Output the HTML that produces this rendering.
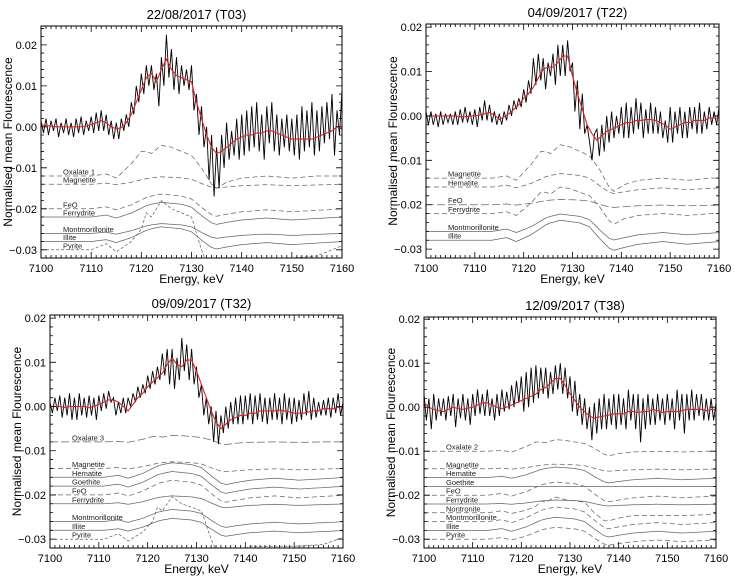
<!DOCTYPE html>
<html><head><meta charset="utf-8">
<style>
html,body{margin:0;padding:0;background:#fff;}
svg{display:block;font-family:"Liberation Sans",sans-serif;}
</style></head>
<body>
<svg id="fig" width="738" height="582" viewBox="0 0 738 582" xmlns="http://www.w3.org/2000/svg"></svg>
<script>
// ---------- data (values in units of 1e-3) ----------
const energyTicks = [7100, 7110, 7120, 7130, 7140, 7150, 7160];
const yTickValues = [0.02, 0.01, 0.00, -0.01, -0.02, -0.03];
const yTickLabels = ["0.02", "0.01", "0.00", "\u22120.01", "\u22120.02", "\u22120.03"];
const panelTitles = ["22/08/2017 (T03)", "04/09/2017 (T22)", "09/09/2017 (T32)", "12/09/2017 (T38)"];

const fitT03 = [0.5,0.3,0.2,0,0,0,0,0,0,0.2, 0.5,1,1.5,1,0,-0.5,-0.2,1,3,6, 9,12,13,11,14,16.5,14,12.5,12,11.5, 11,6,2,-2,-5,-6.5,-6,-5,-4,-3, -2.5,-2,-2,-1.5,-1.5,-1,-1,-1.5,-2,-2.5, -3,-3,-3,-3,-3,-2.5,-2,-1.5,-1,0, -0.5];
const dataT03 = [1.5,-1.5,2,-2,1.5,-1,2,-2.5,1,-1.5, 2,-2,1,-2.5,2,-1.5,2.5,-2,1.5,-1, 2.5,-1.5,3.5,-1,4,-1,3,-2,1.5,-3, 1,-3,2,-1,3,0,6,3,10,6, 13,8,15,10,15,9,13,5,17,10, 22.5,12,19,9,17,8,15,10,14,9, 15,4,8,-2,5,-5,0,-13,-2,-17, -5,-15,-2,-10,1,-8,-1,-7,2,-8, 3,-7,4,-6,5,-5,6,-6,3,-8, 5,-4,6,-6,3,-7,2,-5,3,-6, 2,-7,3,-8,5,-6,4,-5,6,-7, 4,-6,5,-4,6,-3,8,-7,4,-2, 9];

const fitT22 = [0,0,0,0,0,0,0,-0.2,-0.2,0, 0,0.2,0.5,0.8,0.2,-0.8,-0.2,0.5,1.5,2.5, 4,5,6.5,8.5,10.5,11,11,12,13.5,13.5, 9,5,1.5,-2,-4,-5.5,-4.5,-3.5,-3,-2.5, -2,-1.5,-1.5,-1,-1,-0.8,-0.8,-1,-1.5,-2, -3,-2.5,-2,-1.5,-1.5,-1,-1,-1,-0.5,-0.5, -0.5];
const dataT22 = [1,-2,1,-2,0.5,-2.5,1,-2,0.5,-1.5, 0.5,-2,1,-2,1.5,-1.5,2,-1.5,1,-2, 1.5,-2.5,2,-1,3.5,-1,2.5,-1.5,1,-2, 0.5,-2,1,-1,2.5,0,3.5,1.5,4,2, 6,3,8,5,13,7,14,8,13,6, 12,9,14,7,16,9,16,9,17,10, 12,1,8,-3,5,-4,-2,-6,-10,-4, -3,-9,-2,-8,0,-6,1,-5,0,-4, 2,-5,3,-5,2,-4,4,-3,3,-5, 1.5,-4,3,-4,2,-4,1,-5,-1,-6, 2,-6,1,-4,2,-5,1,-5,2,-3, 2,-4,3,-4,1,-3,2,-2,1,-2, 2];

const fitT32 = [0,0,0,-0.2,0,0,0,0,-0.3,0, 0.5,1,1.5,1.5,1,0,-1,0.5,2,3, 4.5,5.5,6.5,7.5,9.5,11,9.5,9,10.5,10.5, 8,5,2,-1,-3.5,-5,-4,-3,-2.5,-2, -2,-1.5,-1.5,-1,-1,-1,-1,-0.8,-1,-1.2, -1.5,-1.5,-1.5,-1.2,-1,-1,-0.5,-0.5,-0.5,-0.2, 0];
const dataT32 = [1,-1.5,2,-1,2.5,-2.5,2,-2,3,-3, 2,-3,3,-2,2,-2.5,2.5,-2,2,-3, 2.5,-1,3,-0.5,3.5,1,2,-2,1,-1.5, 2,-1.5,2,0,3,1,4.5,2,5,3, 7,4,8,5,9,6,12,7,13,5, 13,4,11,6,15.5,8,14,6,13,5, 9,2,5,-2,2,-4,0,-8,-1,-8.5, -2,-6,0,-5,1,-4,2,-4,2.5,-4, 2.5,-3,3,-4,2.5,-3,3,-3.5,2,-4, 2,-3,3,-3,2,-4,3,-3,2,-4, 2,-3.5,1.5,-3,3,-2,3.5,-3,2,-2.5, 1,-2,1.5,-2,2,-2.5,2,-1.5,3,-2, 1];

const fitT38 = [1,0,-0.5,-0.8,-1,-0.5,0,-0.3,-0.5,-0.2, 0,0.5,1,1,0.5,0,-0.3,0,0.5,1, 1.5,2,2.5,3,4,4.5,5.5,6.5,6.5,5, 3,1.5,0,-1,-2,-2.5,-2.2,-2,-1.8,-1.5, -1.5,-1.5,-1,-1,-1.2,-1,-1,-0.5,-0.8,-1.2, -1,-1,-1,-0.8,-0.5,-0.5,-0.5,-0.5,-0.8,-0.5, -0.5];
const dataT38 = [3,-3,2,-5,3,-3,2,-2,2,-3, 2.5,-2,3,-4.5,2,-2.5,3,-3,2,-4, 3,-2,4,-1.5,3,-2,4,-2,2,-3, 3,-2,4,-1,3.5,-0.5,5,0,6,1, 7,-1,8,0,9,1,9.5,2,9,3, 9,2,8,3,9.5,4,10,3,9,2, 7,-1,6,-2,3,-4,2,-5,0,-7.5, 1,-6,2,-5,3,-5,2,-4,3,-5, 3,-4,2,-5,4,-3,3,-5,3,-8, 2,-5,3,-4,2,-4,3,-3,2,-4, 3,-3,2,-5,4,-3,3,-6,3,-3, 4,-3,3,-2,3,-3,2,-3,2,-3, 1];

// reference standard profiles on a shared energy grid
const shapeEnergy = [7100,7105,7110,7113,7115,7118,7120,7121,7122,7124,7126,7128,7130,7132,7134,7135,7137,7140,7145,7150,7155,7160];
const shapeEdge   = [0,0,0,0.4,-0.2,0.8,1.8,2.3,2.6,3.0,2.8,2.6,2.0,0.3,-1.2,-1.5,-1.1,-0.6,-0.2,-0.6,-0.3,0];
const shapeOxal   = [0,0,0,0.5,-0.5,3,6,6,5.5,7.5,7,6,5,2,-2,-3,-1.5,-0.5,0,-0.5,0,0];
const shapePyrite = [0,0,0,1.5,-0.5,2,5,9,8,12,10,9,8,0,-6,-6,-4,-2,-2,-2,-1.5,1];
const shapeFlat   = [0,0,0,0,0,0,0,0,0,0,0,0,0,0,0,0,0,0,0,0,0,0];

// per-panel reference names, baselines, amplitudes
const refNamesT03 = ["Oxalate 1","Magnetite","FeO","Ferrydrite","Montmorillonite","Illite","Pyrite"];
const refBaseT03  = [-12,-14,-20,-22,-26,-28,-30];
const refAmpT03   = [1,0.6,1.2,1.2,0.8,1.2,1];
const refShapeT03 = ["oxal","edge","edge","edge","edge","edge","pyrite"];
const refDashT03  = ["dash","dash","dash","solid","solid","solid","short"];

const refNamesT22 = ["Magnetite","Hematite","FeO","Ferrydrite","Montmorillonite","Illite"];
const refBaseT22  = [-14,-16,-20,-22,-26,-28];
const refAmpT22   = [1,1,0.4,0.8,1.3,1.5];
const refShapeT22 = ["oxal","edge","edge","oxal","edge","edge"];
const refDashT22  = ["dash","dash","long","dash","solid","solid"];

const refNamesT32 = ["Oxalate 3","Magnetite","Hematite","Goethite","FeO","Ferrydrite","Montmorillonite","Illite","Pyrite"];
const refBaseT32  = [-8,-14,-16,-18,-20,-22,-26,-28,-30];
const refAmpT32   = [0.2,0.5,1.1,1.1,1.1,0.6,0.9,0.9,0.8];
const refShapeT32 = ["oxal","edge","edge","edge","edge","edge","edge","edge","pyrite"];
const refDashT32  = ["long","dash","solid","solid","dash","solid","solid","solid","short"];

const refNamesT38 = ["Oxalate 2","Magnetite","Hematite","Goethite","FeO","Ferrydrite","Nontronite","Montmorillonite","Illite","Pyrite"];
const refBaseT38  = [-10,-14,-16,-18,-20,-22,-24,-26,-28,-30];
const refAmpT38   = [0.35,0.35,0.8,0,1.0,0.3,0.3,1.1,1.0,0.9];
const refShapeT38 = ["oxal","edge","edge","flat","edge","edge","pyrite","edge","edge","edge"];
const refDashT38  = ["dash","dash","solid","solid","dash","solid","dash","dash","solid","dash"];

// ---------- drawing ----------
const NS = "http://www.w3.org/2000/svg";
const svg = document.getElementById("fig");
const shapes = {edge: shapeEdge, oxal: shapeOxal, pyrite: shapePyrite, flat: shapeFlat};
const dashes = {solid: "", dash: "5,3", long: "8,3", short: "3,2"};

function mk(tag, attrs, parent) {
  const e = document.createElementNS(NS, tag);
  for (const k in attrs) e.setAttribute(k, attrs[k]);
  parent.appendChild(e);
  return e;
}
function lookup(shape, e) {
  if (e <= shapeEnergy[0]) return shape[0];
  for (let i = 1; i < shapeEnergy.length; i++) {
    if (e <= shapeEnergy[i]) {
      const t = (e - shapeEnergy[i-1]) / (shapeEnergy[i] - shapeEnergy[i-1]);
      return shape[i-1] + t * (shape[i] - shape[i-1]);
    }
  }
  return shape[shape.length - 1];
}

const panels = [
  {id:"t03", x0:41, x1:342, y0:26, y1:258, ymax:24.6, ymin:-32, fit:fitT03, data:dataT03, shift:0,
   names:refNamesT03, base:refBaseT03, amp:refAmpT03, shp:refShapeT03, dsh:refDashT03, title:panelTitles[0]},
  {id:"t22", x0:426, x1:719, y0:24, y1:258, ymax:20.7, ymin:-32, fit:fitT22, data:dataT22, shift:3.5,
   names:refNamesT22, base:refBaseT22, amp:refAmpT22, shp:refShapeT22, dsh:refDashT22, title:panelTitles[1]},
  {id:"t32", x0:50, x1:343, y0:315, y1:548, ymax:20.7, ymin:-32, fit:fitT32, data:dataT32, shift:1,
   names:refNamesT32, base:refBaseT32, amp:refAmpT32, shp:refShapeT32, dsh:refDashT32, title:panelTitles[2]},
  {id:"t38", x0:424, x1:716, y0:317, y1:548, ymax:20.5, ymin:-32, fit:fitT38, data:dataT38, shift:3,
   names:refNamesT38, base:refBaseT38, amp:refAmpT38, shp:refShapeT38, dsh:refDashT38, title:panelTitles[3]}
];

panels.forEach(function(p) {
  const g = mk("g", {}, svg);
  
  
  const xs = e => p.x0 + (e - 7100) / 60 * (p.x1 - p.x0);
  const ys = v => p.y0 + (p.ymax - v) / (p.ymax - p.ymin) * (p.y1 - p.y0);

  const cp = mk("clipPath", {id: "clip-" + p.id}, g);
  mk("rect", {x: p.x0, y: p.y0, width: p.x1 - p.x0, height: p.y1 - p.y0}, cp);
  const plot = mk("g", {"clip-path": "url(#clip-" + p.id + ")"}, g);

  p.names.forEach(function(nm, i) {
    let d = "";
    for (let e = 7100; e <= 7160; e += 0.5) {
      const v = p.base[i] + p.amp[i] * lookup(shapes[p.shp[i]], e - p.shift);
      d += (d ? "L" : "M") + xs(e).toFixed(1) + "," + ys(v).toFixed(1);
    }
    const path = mk("path", {d: d, fill: "none", stroke: "#666", "stroke-width": 0.75}, plot);
    if (dashes[p.dsh[i]]) path.setAttribute("stroke-dasharray", dashes[p.dsh[i]]);
    
    
    const lbl = mk("text", {x: p.x0 + 22, y: ys(p.base[i]) - 1.5, "font-size": 7.5, fill: "#222"}, g);
    lbl.textContent = nm;
    
    
  });

  let dd = "";
  p.data.forEach(function(v, i) {
    dd += (i ? "L" : "M") + xs(7100 + i * 0.5).toFixed(1) + "," + ys(v).toFixed(1);
  });
  const dl = mk("path", {d: dd, fill: "none", stroke: "#000", "stroke-width": 0.9}, plot);
  
  

  let fd = "";
  p.fit.forEach(function(v, i) {
    fd += (i ? "L" : "M") + xs(7100 + i).toFixed(1) + "," + ys(v).toFixed(1);
  });
  const fl = mk("path", {d: fd, fill: "none", stroke: "#e02020", "stroke-width": 1.1}, plot);
  
  

  const fr = mk("rect", {x: p.x0, y: p.y0, width: p.x1 - p.x0, height: p.y1 - p.y0, fill: "none", stroke: "#000", "stroke-width": 1}, g);
  
  

  let td = "";
  for (let e = 7100; e <= 7160; e += 1) {
    const L = (e % 10 === 0) ? 6 : 3, x = xs(e);
    td += "M" + x + "," + p.y1 + "v" + (-L) + "M" + x + "," + p.y0 + "v" + L;
  }
  for (let v = -32; v <= p.ymax; v += 2) {
    const L = (Math.abs(v) % 10 === 0) ? 6 : 3, y = ys(v);
    td += "M" + p.x0 + "," + y + "h" + L + "M" + p.x1 + "," + y + "h" + (-L);
  }
  const tk = mk("path", {d: td, stroke: "#000", "stroke-width": 0.8, fill: "none"}, g);
  
  

  energyTicks.forEach(function(e) {
    const t = mk("text", {x: xs(e), y: p.y1 + 14, "font-size": 11, "text-anchor": "middle"}, g);
    t.textContent = e;
    
    
  });
  yTickValues.forEach(function(v, i) {
    const t = mk("text", {x: p.x0 - 4, y: ys(v * 1000) + 4, "font-size": 11, "text-anchor": "end"}, g);
    t.textContent = yTickLabels[i];
    
    
  });

  const xt = mk("text", {x: (p.x0 + p.x1) / 2, y: p.y1 + 25, "font-size": 12, "text-anchor": "middle"}, g);
  xt.textContent = "Energy, keV";
  
  

  const yc = (p.y0 + p.y1) / 2, yx = p.x0 - 29;
  const yt = mk("text", {x: yx, y: yc, "font-size": 12, "text-anchor": "middle", transform: "rotate(-90 " + yx + " " + yc + ")"}, g);
  yt.textContent = "Normalised mean Flourescence";
  
  

  const tt = mk("text", {x: (p.x0 + p.x1) / 2 + 5, y: p.y0 - 7, "font-size": 13, "text-anchor": "middle"}, g);
  tt.textContent = p.title;
  
  
});
</script>
</body></html>
